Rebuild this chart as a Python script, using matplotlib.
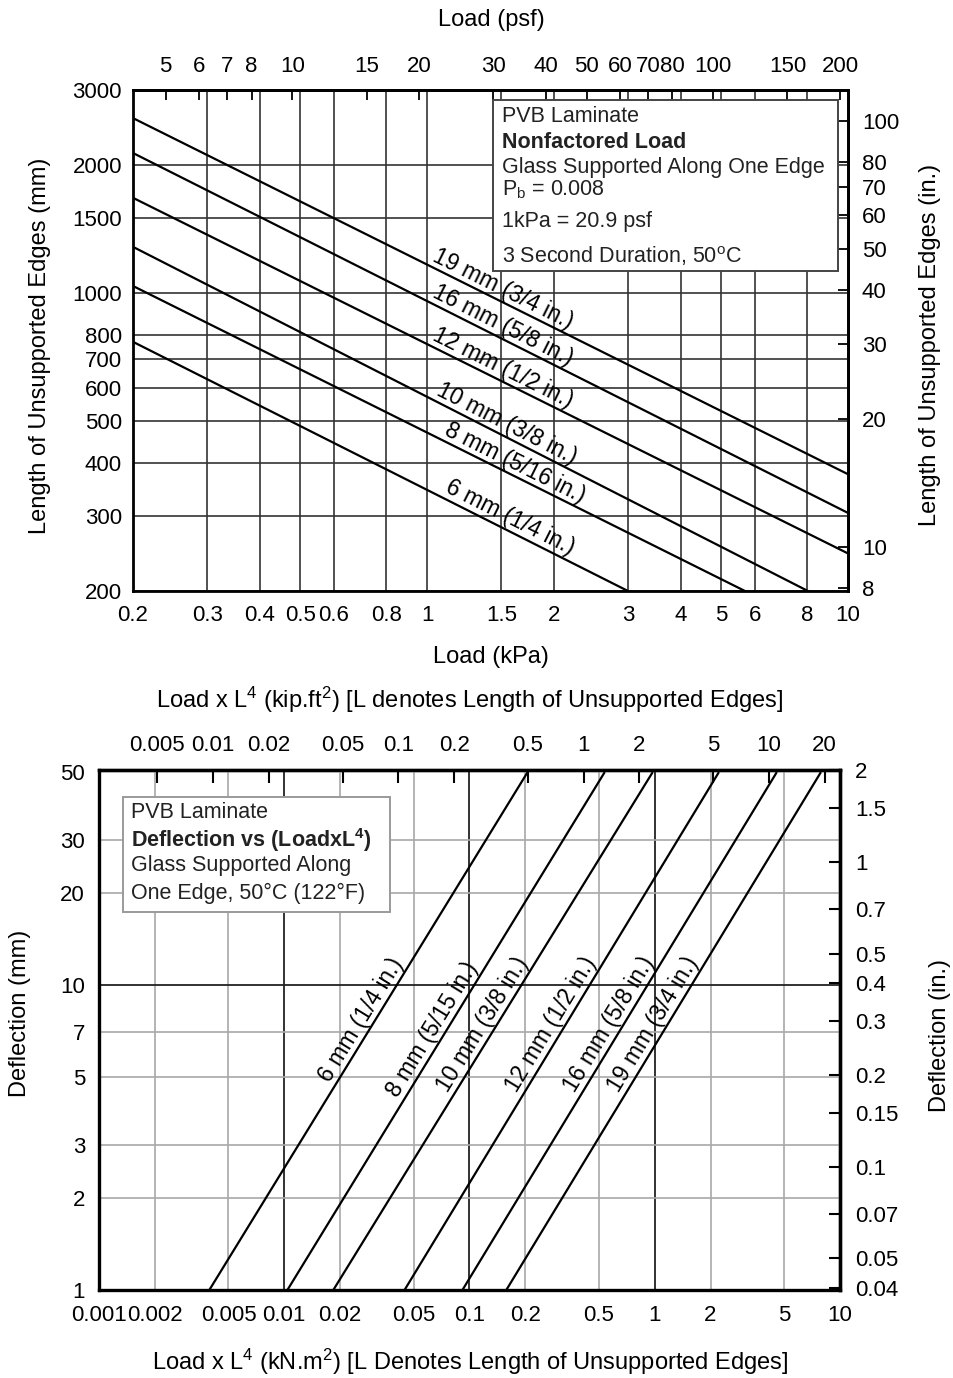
import numpy as np
import matplotlib
matplotlib.use('Agg')
import matplotlib.pyplot as plt
from matplotlib.ticker import FixedLocator, NullLocator, FixedFormatter
from matplotlib.patches import Rectangle

plt.rcParams['font.family'] = ['Liberation Sans', 'DejaVu Sans']
plt.rcParams['mathtext.fontset'] = 'custom'
plt.rcParams['mathtext.rm'] = 'Liberation Sans'
plt.rcParams['mathtext.it'] = 'Liberation Sans:italic'
plt.rcParams['mathtext.bf'] = 'Liberation Sans:bold'

# ---------------- data: top chart (length vs load) ----------------
top_labels = ["6 mm (1/4 in.)", "8 mm (5/16 in.)", "10 mm (3/8 in.)",
              "12 mm (1/2 in.)", "16 mm (5/8 in.)", "19 mm (3/4 in.)"]
top_load_start = [0.2, 0.2, 0.2, 0.2, 0.2, 0.2]            # kPa
top_length_start = [769, 1040, 1285, 1675, 2134, 2577]     # mm
top_load_end = [3.0, 5.69, 8.03, 10.0, 10.0, 10.0]         # kPa
top_length_end = [200, 200, 200, 245, 305, 376]            # mm

kpa_ticks = [0.2, 0.3, 0.4, 0.5, 0.6, 0.8, 1, 1.5, 2, 3, 4, 5, 6, 8, 10]
kpa_ticklabels = ["0.2", "0.3", "0.4", "0.5", "0.6", "0.8", "1", "1.5", "2",
                  "3", "4", "5", "6", "8", "10"]
mm_ticks = [200, 300, 400, 500, 600, 700, 800, 1000, 1500, 2000, 3000]
mm_ticklabels = ["200", "300", "400", "500", "600", "700", "800", "1000",
                 "1500", "2000", "3000"]
psf_ticks = [5, 6, 7, 8, 10, 15, 20, 30, 40, 50, 60, 70, 80, 100, 150, 200]
psf_ticklabels = ["5", "6", "7", "8", "10", "15", "20", "30", "40", "50",
                  "60", "70", "80", "100", "150", "200"]
inch_ticks = [8, 10, 20, 30, 40, 50, 60, 70, 80, 100]
inch_ticklabels = ["8", "10", "20", "30", "40", "50", "60", "70", "80", "100"]
PSF_PER_KPA = 20.9
MM_PER_IN = 25.4

# ---------------- data: bottom chart (deflection vs load x L^4) ----------------
bot_labels = ["6 mm (1/4 in.)", "8 mm (5/15 in.)", "10 mm (3/8 in.)",
              "12 mm (1/2 in.)", "16 mm (5/8 in.)", "19 mm (3/4 in.)"]
bot_loadL4_start = [0.00394, 0.0104, 0.0184, 0.0446, 0.0916, 0.158]  # kN.m2
bot_defl_start = [1, 1, 1, 1, 1, 1]                                  # mm
bot_loadL4_end = [0.206, 0.537, 0.975, 2.22, 4.56, 7.89]             # kN.m2
bot_defl_end = [50, 50, 50, 50, 50, 50]                              # mm

knm2_ticks = [0.001, 0.002, 0.005, 0.01, 0.02, 0.05, 0.1, 0.2, 0.5, 1, 2, 5, 10]
knm2_ticklabels = ["0.001", "0.002", "0.005", "0.01", "0.02", "0.05", "0.1",
                   "0.2", "0.5", "1", "2", "5", "10"]
kipft2_ticks = [0.005, 0.01, 0.02, 0.05, 0.1, 0.2, 0.5, 1, 2, 5, 10, 20]
kipft2_ticklabels = ["0.005", "0.01", "0.02", "0.05", "0.1", "0.2", "0.5",
                     "1", "2", "5", "10", "20"]
defl_mm_ticks = [1, 2, 3, 5, 7, 10, 20, 30, 50]
defl_mm_ticklabels = ["1", "2", "3", "5", "7", "10", "20", "30", "50"]
defl_in_ticks = [0.04, 0.05, 0.07, 0.1, 0.15, 0.2, 0.3, 0.4, 0.5, 0.7, 1, 1.5, 2]
defl_in_ticklabels = ["0.04", "0.05", "0.07", "0.1", "0.15", "0.2", "0.3",
                      "0.4", "0.5", "0.7", "1", "1.5", "2"]
KIPFT2_PER_KNM2 = 2.4198

TICK_FS = 16
LABEL_FS = 17
BOX_FS = 15.5
LINE_FS = 16.5

W, H = 954, 1378
fig = plt.figure(figsize=(W / 100, H / 100), dpi=100)


def frac_rect(x0, y0, x1, y1):
    return [x0 / W, 1 - y1 / H, (x1 - x0) / W, (y1 - y0) / H]


def place_label(ax, x0, y0, x1, y1, t, text, offset):
    lx = 10 ** (np.log10(x0) + t * (np.log10(x1) - np.log10(x0)))
    ly = 10 ** (np.log10(y0) + t * (np.log10(y1) - np.log10(y0)))
    p0 = ax.transData.transform((x0, y0))
    p1 = ax.transData.transform((x1, y1))
    ang = np.degrees(np.arctan2(p1[1] - p0[1], p1[0] - p0[0]))
    nx, ny = -np.sin(np.radians(ang)), np.cos(np.radians(ang))
    ax.annotate(text, (lx, ly), xytext=(nx * offset, ny * offset),
                textcoords='offset points', rotation=ang,
                rotation_mode='anchor', ha='center', va='bottom',
                fontsize=LINE_FS, zorder=5)


# ======================= TOP CHART =======================
ax1 = fig.add_axes(frac_rect(133, 90, 848, 591))
ax1.set_xscale('log')
ax1.set_yscale('log')
ax1.set_xlim(0.2, 10)
ax1.set_ylim(200, 3000)
ax1.xaxis.set_major_locator(FixedLocator(kpa_ticks))
ax1.xaxis.set_major_formatter(FixedFormatter(kpa_ticklabels))
ax1.xaxis.set_minor_locator(NullLocator())
ax1.yaxis.set_major_locator(FixedLocator(mm_ticks))
ax1.yaxis.set_major_formatter(FixedFormatter(mm_ticklabels))
ax1.yaxis.set_minor_locator(NullLocator())
ax1.tick_params(axis='x', direction='in', length=0, pad=10, labelsize=TICK_FS)
ax1.tick_params(axis='y', direction='in', length=0, pad=8, labelsize=TICK_FS)
ax1.grid(True, which='major', color='#333333', lw=1.2, zorder=1)
for s in ax1.spines.values():
    s.set_linewidth(2.0)

for i in range(len(top_labels)):
    ax1.plot([top_load_start[i], top_load_end[i]],
             [top_length_start[i], top_length_end[i]],
             color='black', lw=1.6, zorder=3, solid_capstyle='butt')

top_label_t = [0.75, 0.615, 0.545, 0.51, 0.51, 0.51]
for i in range(len(top_labels)):
    place_label(ax1, top_load_start[i], top_length_start[i],
                top_load_end[i], top_length_end[i], top_label_t[i],
                top_labels[i], 0.5)

sec_top = ax1.secondary_xaxis('top', functions=(lambda x: x * PSF_PER_KPA,
                                                lambda x: x / PSF_PER_KPA))
sec_top.xaxis.set_major_locator(FixedLocator(psf_ticks))
sec_top.xaxis.set_major_formatter(FixedFormatter(psf_ticklabels))
sec_top.xaxis.set_minor_locator(NullLocator())
sec_top.tick_params(direction='in', length=7, width=1.3, pad=9, labelsize=TICK_FS)
sec_top.spines['top'].set_linewidth(2.0)

sec_right = ax1.secondary_yaxis('right', functions=(lambda y: y / MM_PER_IN,
                                                    lambda y: y * MM_PER_IN))
sec_right.yaxis.set_major_locator(FixedLocator(inch_ticks))
sec_right.yaxis.set_major_formatter(FixedFormatter(inch_ticklabels))
sec_right.yaxis.set_minor_locator(NullLocator())
sec_right.tick_params(direction='in', length=7, width=1.3, pad=10, labelsize=TICK_FS)
sec_right.spines['right'].set_linewidth(2.0)

# info box top
bx0, bx1 = (493 - 133) / 715, (838 - 133) / 715
by0, by1 = (591 - 271) / 501, (591 - 100) / 501
ax1.add_patch(Rectangle((bx0, by0), bx1 - bx0, by1 - by0, transform=ax1.transAxes,
                        facecolor='white', edgecolor='#444444', lw=1.4, zorder=6))
top_box_lines = [("PVB Laminate", 'normal', 117),
                 ("Nonfactored Load", 'bold', 142),
                 ("Glass Supported Along One Edge", 'normal', 167),
                 ("P$_\\mathrm{b}$ = 0.008", 'normal', 190),
                 ("1kPa = 20.9 psf", 'normal', 222),
                 ("3 Second Duration, 50$^\\mathrm{o}$C", 'normal', 256)]
for txt, wt, yp in top_box_lines:
    ax1.text((502 - 133) / 715, (591 - yp) / 501, txt, transform=ax1.transAxes,
             fontsize=BOX_FS, fontweight=wt, ha='left', va='center', zorder=7,
             color='#222222')

fig.text(491 / W, 1 - 20 / H, "Load (psf)", ha='center', va='center', fontsize=LABEL_FS)
fig.text(491 / W, 1 - 657 / H, "Load (kPa)", ha='center', va='center', fontsize=LABEL_FS)
fig.text(40 / W, 1 - 346 / H, "Length of Unsupported Edges (mm)", rotation=90,
         ha='center', va='center', fontsize=LABEL_FS)
fig.text(930 / W, 1 - 345 / H, "Length of Unsupported Edges (in.)", rotation=90,
         ha='center', va='center', fontsize=LABEL_FS)

# ======================= BOTTOM CHART =======================
ax2 = fig.add_axes(frac_rect(99, 770, 840, 1290))
ax2.set_xscale('log')
ax2.set_yscale('log')
ax2.set_xlim(0.001, 10)
ax2.set_ylim(1, 2 * MM_PER_IN)
ax2.xaxis.set_major_locator(FixedLocator(knm2_ticks))
ax2.xaxis.set_major_formatter(FixedFormatter(knm2_ticklabels))
ax2.xaxis.set_minor_locator(NullLocator())
ax2.yaxis.set_major_locator(FixedLocator(defl_mm_ticks))
ax2.yaxis.set_major_formatter(FixedFormatter(defl_mm_ticklabels))
ax2.yaxis.set_minor_locator(NullLocator())
ax2.tick_params(axis='x', direction='in', length=0, pad=11, labelsize=TICK_FS)
ax2.tick_params(axis='y', direction='in', length=0, pad=10, labelsize=TICK_FS)
dark_x = [0.01, 0.1, 1]
for v in knm2_ticks[1:-1]:
    dark = v in dark_x
    ax2.axvline(v, color='#222222' if dark else '#a8a8a8', lw=1.3 if dark else 1.2, zorder=1)
for v in defl_mm_ticks[1:-1]:
    dark = v == 10
    ax2.axhline(v, color='#222222' if dark else '#a8a8a8', lw=1.3 if dark else 1.2, zorder=1)
for s in ax2.spines.values():
    s.set_linewidth(2.4)

for i in range(len(bot_labels)):
    ax2.plot([bot_loadL4_start[i], bot_loadL4_end[i]],
             [bot_defl_start[i], bot_defl_end[i]],
             color='black', lw=1.6, zorder=3, solid_capstyle='butt')

bot_label_t = [0.51, 0.49, 0.50, 0.50, 0.50, 0.50]
for i in range(len(bot_labels)):
    place_label(ax2, bot_loadL4_start[i], bot_defl_start[i],
                bot_loadL4_end[i], bot_defl_end[i], bot_label_t[i],
                bot_labels[i], 0.5)

sec_top2 = ax2.secondary_xaxis('top', functions=(lambda x: x * KIPFT2_PER_KNM2,
                                                 lambda x: x / KIPFT2_PER_KNM2))
sec_top2.xaxis.set_major_locator(FixedLocator(kipft2_ticks))
sec_top2.xaxis.set_major_formatter(FixedFormatter(kipft2_ticklabels))
sec_top2.xaxis.set_minor_locator(NullLocator())
sec_top2.tick_params(direction='in', length=9, width=1.5, pad=10, labelsize=TICK_FS)
sec_top2.spines['top'].set_linewidth(2.4)

sec_right2 = ax2.secondary_yaxis('right', functions=(lambda y: y / MM_PER_IN,
                                                     lambda y: y * MM_PER_IN))
sec_right2.yaxis.set_major_locator(FixedLocator(defl_in_ticks))
sec_right2.yaxis.set_major_formatter(FixedFormatter(defl_in_ticklabels))
sec_right2.yaxis.set_minor_locator(NullLocator())
sec_right2.tick_params(direction='in', length=8, width=1.5, pad=11, labelsize=TICK_FS)
sec_right2.spines['right'].set_linewidth(2.4)

bbx0, bbx1 = (123 - 99) / 741, (390 - 99) / 741
bby0, bby1 = (1290 - 912) / 520, (1290 - 797) / 520
ax2.add_patch(Rectangle((bbx0, bby0), bbx1 - bbx0, bby1 - bby0, transform=ax2.transAxes,
                        facecolor='white', edgecolor='#9a9a9a', lw=1.4, zorder=6))
bot_box_lines = [("PVB Laminate", 'normal', 813),
                 ("Deflection vs (LoadxL$^\\mathbf{4}$)", 'bold', 840),
                 ("Glass Supported Along", 'normal', 866),
                 ("One Edge, 50\u00b0C (122\u00b0F)", 'normal', 893)]
for txt, wt, yp in bot_box_lines:
    ax2.text((131 - 99) / 741, (1290 - yp) / 520, txt, transform=ax2.transAxes,
             fontsize=BOX_FS, fontweight=wt, ha='left', va='center', zorder=7,
             color='#222222')

fig.text(470 / W, 1 - 700 / H,
         "Load x L$^4$ (kip.ft$^2$) [L denotes Length of Unsupported Edges]",
         ha='center', va='center', fontsize=LABEL_FS)
fig.text(470 / W, 1 - 1362 / H,
         "Load x L$^4$ (kN.m$^2$) [L Denotes Length of Unsupported Edges]",
         ha='center', va='center', fontsize=LABEL_FS)
fig.text(20 / W, 1 - 1013 / H, "Deflection (mm)", rotation=90,
         ha='center', va='center', fontsize=LABEL_FS)
fig.text(940 / W, 1 - 1035 / H, "Deflection (in.)", rotation=90,
         ha='center', va='center', fontsize=LABEL_FS)

fig.savefig('out.png', dpi=100)
